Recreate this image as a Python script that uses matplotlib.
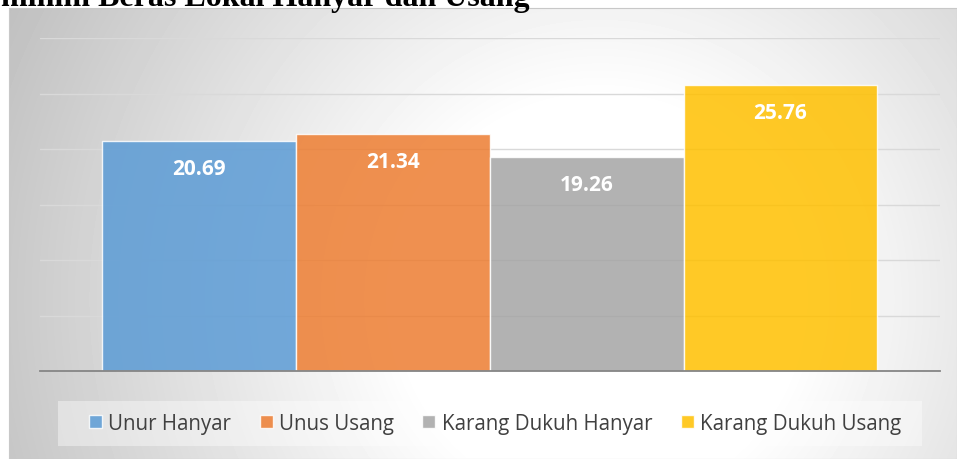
import numpy as np
import matplotlib.pyplot as plt
from matplotlib.patches import Rectangle

# data
series = ['Unur Hanyar', 'Unus Usang', 'Karang Dukuh Hanyar', 'Karang Dukuh Usang']
values = [20.69, 21.34, 19.26, 25.76]
colors = ['#5B9BD5', '#ED7D31', '#A5A5A5', '#FFC000']
title_text = 'minim Beras Lokal Hanyar dan Usang'

W, H = 957, 460
fig = plt.figure(figsize=(W / 100, H / 100), dpi=100, facecolor='white')

# background of the chart area: radial grey gradient
bg = fig.add_axes([9 / W, 0, 1 - 9 / W, 1 - 9 / H], zorder=0)
yy, xx = np.mgrid[9:H, 9:W]
d = np.sqrt((xx - 600) ** 2 + (yy - 300) ** 2)
v = 1 - 0.00054 * np.clip(d - 200, 0, None)
bg.imshow(v, cmap='gray', vmin=0, vmax=1, aspect='auto', interpolation='bilinear')
bg.set_xticks([])
bg.set_yticks([])
for s in bg.spines.values():
    s.set_color('#c8c8c8')
    s.set_linewidth(0.8)

# main plot
ax = fig.add_axes([40 / W, 1 - 372 / H, 900 / W, (372 - 39) / H], zorder=1)
ax.patch.set_alpha(0)
x = np.arange(len(values))
bars = ax.bar(x, values, width=1.0, color=colors, alpha=0.85,
              edgecolor=(1, 1, 1, 0.6), linewidth=1, label=series, zorder=2)
ax.set_xlim(-0.822, 3.824)
ax.set_ylim(0, 30)
ax.set_yticks(np.arange(0, 31, 5))
ax.yaxis.grid(True, color='#d9d9d9', linewidth=1, zorder=0)
ax.set_axisbelow(True)
ax.tick_params(left=False, bottom=False, labelleft=False, labelbottom=False)
for side in ['top', 'right', 'left']:
    ax.spines[side].set_visible(False)
ax.spines['bottom'].set_color('#858585')
ax.spines['bottom'].set_linewidth(1.3)
ax.spines['bottom'].set_zorder(3)

for xi, val in zip(x, values):
    ax.annotate(f'{val:.2f}', (xi, val), xytext=(0, -19.4), textcoords='offset points',
                ha='center', va='center', color='white', fontsize=15,
                fontweight='bold', family='Open Sans', zorder=4)

# legend box
fig.patches.append(Rectangle((58 / W, 1 - 447 / H), (922 - 58) / W, 45 / H,
                             transform=fig.transFigure, facecolor='white',
                             alpha=0.4, edgecolor='none', zorder=1))
handles = [Rectangle((0, 0), 1, 1, facecolor=c, alpha=0.85,
                     edgecolor=(1, 1, 1, 0.6)) for c in colors]
fig.legend(handles, series, loc='center', bbox_to_anchor=(495 / W, 1 - 424.5 / H),
           ncol=4, frameon=False, prop={'family': 'Open Sans', 'size': 14.8},
           labelcolor='#404040', handlelength=0.63, handleheight=0.63,
           handletextpad=0.3, columnspacing=1.4)

# title, cropped at the top of the image
fig.text(530 / W, 1 - 6 / H, title_text, ha='right', va='baseline',
         family='Liberation Serif', fontweight='bold', fontsize=23, color='black')

fig.savefig('out.png', dpi=100, facecolor='white')
